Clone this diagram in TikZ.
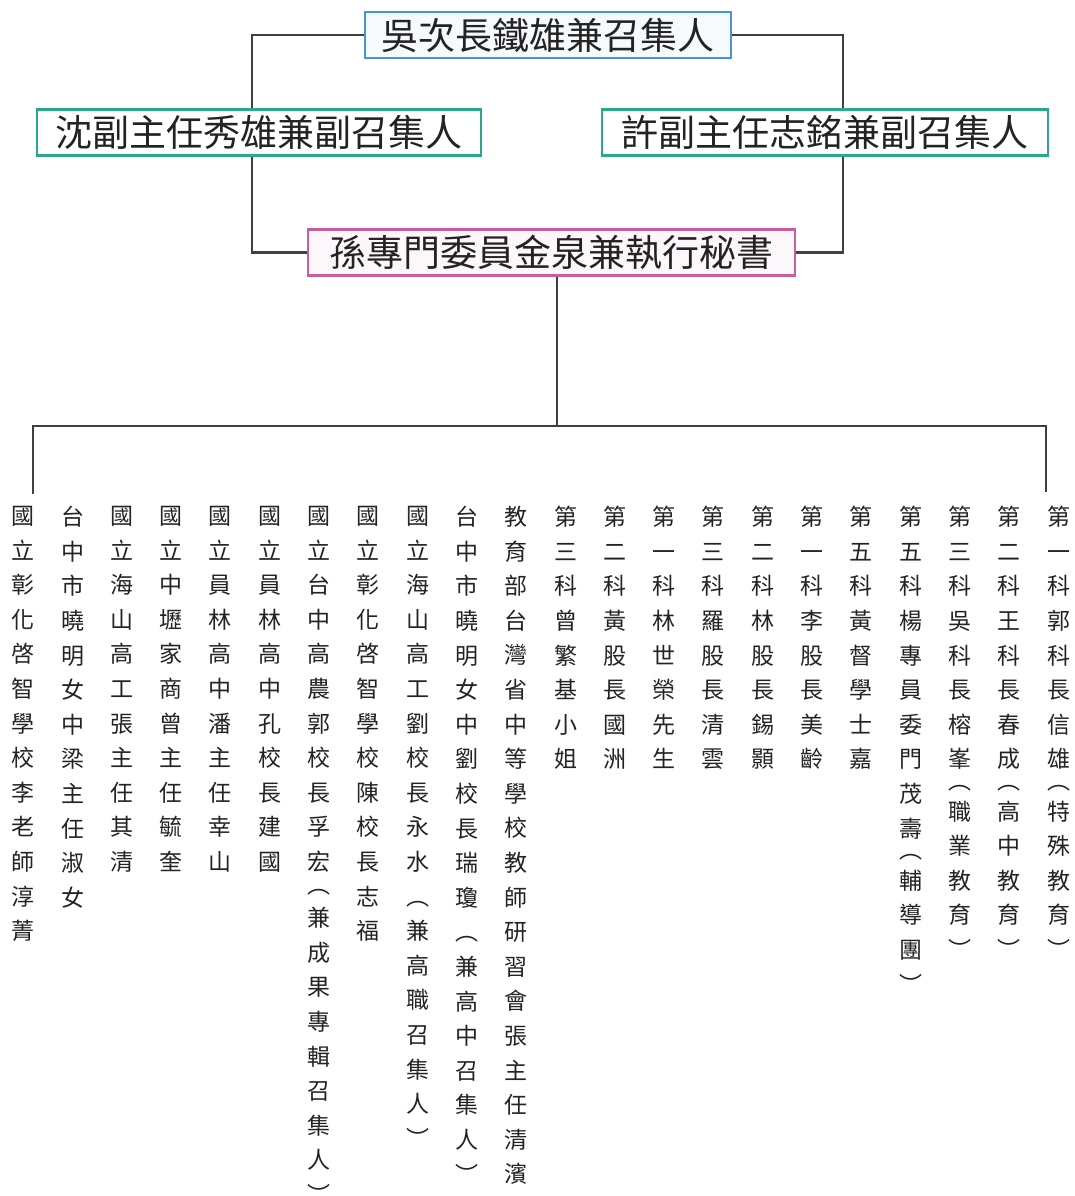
\documentclass[tikz,border=0pt]{standalone}
\usepackage{fontspec}
\newfontfamily\cjk{Noto Sans CJK TC}
\usepackage{tikz}

\definecolor{chairblue}{RGB}{70,148,212}
\definecolor{deputyteal}{RGB}{42,168,140}
\definecolor{secpink}{RGB}{204,92,158}
\definecolor{wire}{RGB}{64,64,64}
\definecolor{ink}{RGB}{35,35,35}

\tikzset{
  title/.style={draw, line width=2.5pt, inner xsep=0pt, inner ysep=0pt, minimum height=46pt, text=ink, font=\fontsize{37pt}{40pt}\selectfont\cjk},
  member/.style={anchor=north, inner sep=0pt, align=center, text=ink, font=\fontsize{23pt}{34.6pt}\selectfont\cjk},
  link/.style={draw=wire, line width=2.5pt}
}

\begin{document}
\begin{tikzpicture}[x=1pt, y=-1pt]
\useasboundingbox (0,0) rectangle (1075,1196);

\path (548,35) node[title, draw=chairblue, fill=chairblue!5, minimum width=366pt] (wu) {吳次長鐵雄兼召集人}
      (259,132.5) node[title, draw=deputyteal, fill=white, minimum width=444pt] (shen) {沈副主任秀雄兼副召集人}
      (825,132.5) node[title, draw=deputyteal, fill=white, minimum width=446pt] (xu) {許副主任志銘兼副召集人}
      (551.5,252.5) node[title, draw=secpink, fill=secpink!5, minimum width=487pt] (sun) {孫專門委員金泉兼執行秘書}
      ;

\path (1058.5,506) node[member] (k1) {第\\一\\科\\郭\\科\\長\\信\\雄\\[-13pt]︵\\[-4pt]特\\殊\\教\\育\\︶}
      (1009.2,506) node[member] (k2) {第\\二\\科\\王\\科\\長\\春\\成\\[-13pt]︵\\[-4pt]高\\中\\教\\育\\︶}
      (959.9,506) node[member] (k3) {第\\三\\科\\吳\\科\\長\\榕\\峯\\[-13pt]︵\\[-4pt]職\\業\\教\\育\\︶}
      (910.6,506) node[member] (k4) {第\\五\\科\\楊\\專\\員\\委\\門\\茂\\壽\\[-13pt]︵\\[-4pt]輔\\導\\團\\︶}
      (861.3,506) node[member] (k5) {第\\五\\科\\黃\\督\\學\\士\\嘉}
      (812.0,506) node[member] (k6) {第\\一\\科\\李\\股\\長\\美\\齡}
      (762.7,506) node[member] (k7) {第\\二\\科\\林\\股\\長\\錫\\顥}
      (713.4,506) node[member] (k8) {第\\三\\科\\羅\\股\\長\\清\\雲}
      (664.1,506) node[member] (k9) {第\\一\\科\\林\\世\\榮\\先\\生}
      (614.8,506) node[member] (k10) {第\\二\\科\\黃\\股\\長\\國\\洲}
      (565.5,506) node[member] (k11) {第\\三\\科\\曾\\繁\\基\\小\\姐}
      (516.2,506) node[member] (k12) {教\\育\\部\\台\\灣\\省\\中\\等\\學\\校\\教\\師\\研\\習\\會\\張\\主\\任\\清\\濱}
      (466.9,506) node[member] (k13) {台\\中\\市\\曉\\明\\女\\中\\劉\\校\\長\\瑞\\瓊\\︵\\兼\\高\\中\\召\\集\\人\\︶}
      (417.6,506) node[member] (k14) {國\\立\\海\\山\\高\\工\\劉\\校\\長\\永\\水\\︵\\兼\\高\\職\\召\\集\\人\\︶}
      (368.3,506) node[member] (k15) {國\\立\\彰\\化\\啓\\智\\學\\校\\陳\\校\\長\\志\\福}
      (319.0,506) node[member] (k16) {國\\立\\台\\中\\高\\農\\郭\\校\\長\\孚\\宏\\[-12pt]︵\\[-1pt]兼\\成\\果\\專\\輯\\召\\集\\人\\︶}
      (269.7,506) node[member] (k17) {國\\立\\員\\林\\高\\中\\孔\\校\\長\\建\\國}
      (220.4,506) node[member] (k18) {國\\立\\員\\林\\高\\中\\潘\\主\\任\\幸\\山}
      (171.1,506) node[member] (k19) {國\\立\\中\\壢\\家\\商\\曾\\主\\任\\毓\\奎}
      (121.8,506) node[member] (k20) {國\\立\\海\\山\\高\\工\\張\\主\\任\\其\\清}
      (72.5,506) node[member] (k21) {台\\中\\市\\曉\\明\\女\\中\\梁\\主\\任\\淑\\女}
      (23.2,506) node[member] (k22) {國\\立\\彰\\化\\啓\\智\\學\\校\\李\\老\\師\\淳\\菁}
      ;

% bus to the members
\coordinate (busL) at (33,426);
\coordinate (busR) at (1046,426);
\coordinate (dropL) at (33,494);
\coordinate (dropR) at (1046,492);

\draw[link] (wu.west) -| ([xshift=-7pt]shen.north);
\draw[link] ([xshift=-7pt]shen.south) |- (sun.west);
\draw[link] (wu.east) -| ([xshift=18pt]xu.north);
\draw[link] ([xshift=18pt]xu.south) |- (sun.east);
\draw[link] ([xshift=5.5pt]sun.south) -- ([xshift=5.5pt]sun.south |- busL);
\draw[link] (dropL) -- (busL) -- (busR) -- (dropR);
\end{tikzpicture}
\end{document}
